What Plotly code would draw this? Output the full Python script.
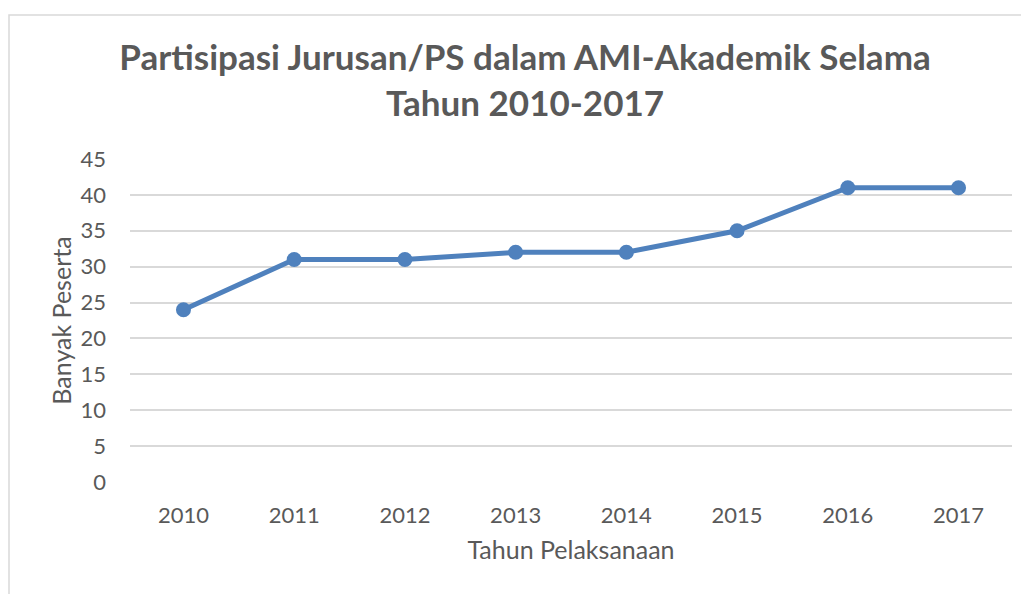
import plotly.graph_objects as go

years = ["2010", "2011", "2012", "2013", "2014", "2015", "2016", "2017"]
peserta = [24, 31, 31, 32, 32, 35, 41, 41]
title_text = "Partisipasi Jurusan/PS dalam AMI-Akademik Selama<br>Tahun 2010-2017"
x_title = "Tahun Pelaksanaan"
y_title = "Banyak Peserta"

# the page body adds an 8px offset; compensate
OFF = 8
W, H = 1029, 594
L, R, T = 130 - OFF, 17 + OFF, 159 - OFF
B = H - (482 - OFF)
pw, ph = W - L - R, H - T - B

fig = go.Figure()
fig.add_trace(go.Scatter(
    x=years, y=peserta, mode="lines+markers",
    line=dict(color="#4F81BD", width=5),
    marker=dict(color="#4F81BD", size=15),
    showlegend=False,
))

font_family = "Lato, 'Open Sans', sans-serif"
fig.update_layout(
    width=W, height=H,
    margin=dict(l=L, r=R, t=T, b=B),
    paper_bgcolor="white", plot_bgcolor="white",
    font=dict(family=font_family, color="#595959", size=22),
    title=dict(text=title_text, x=(525 - OFF) / W, xanchor="center", xref="container",
               y=(H - 62) / H, yanchor="top",
               font=dict(family=font_family, size=35, color="#595959", weight="bold")),
    xaxis=dict(type="category", showgrid=False, zeroline=False, showline=False,
               ticks="", ticklabelstandoff=18,
               title=dict(text=x_title, standoff=14, font=dict(size=25))),
    yaxis=dict(range=[0, 45], dtick=5, tick0=0, showgrid=True, gridcolor="#D9D9D9",
               gridwidth=1.5, zeroline=False, showline=False, ticks="",
               ticklabelstandoff=23,
               title=dict(text=y_title, standoff=1, font=dict(size=25))),
    shapes=[dict(type="rect", xref="paper", yref="paper",
                 x0=(9 - OFF - L) / pw, x1=1.2, y0=-0.6, y1=(H - B - (15 - OFF)) / ph,
                 line=dict(color="#D9D9D9", width=1.5), layer="below")],
)

fig.write_html("out.html")
